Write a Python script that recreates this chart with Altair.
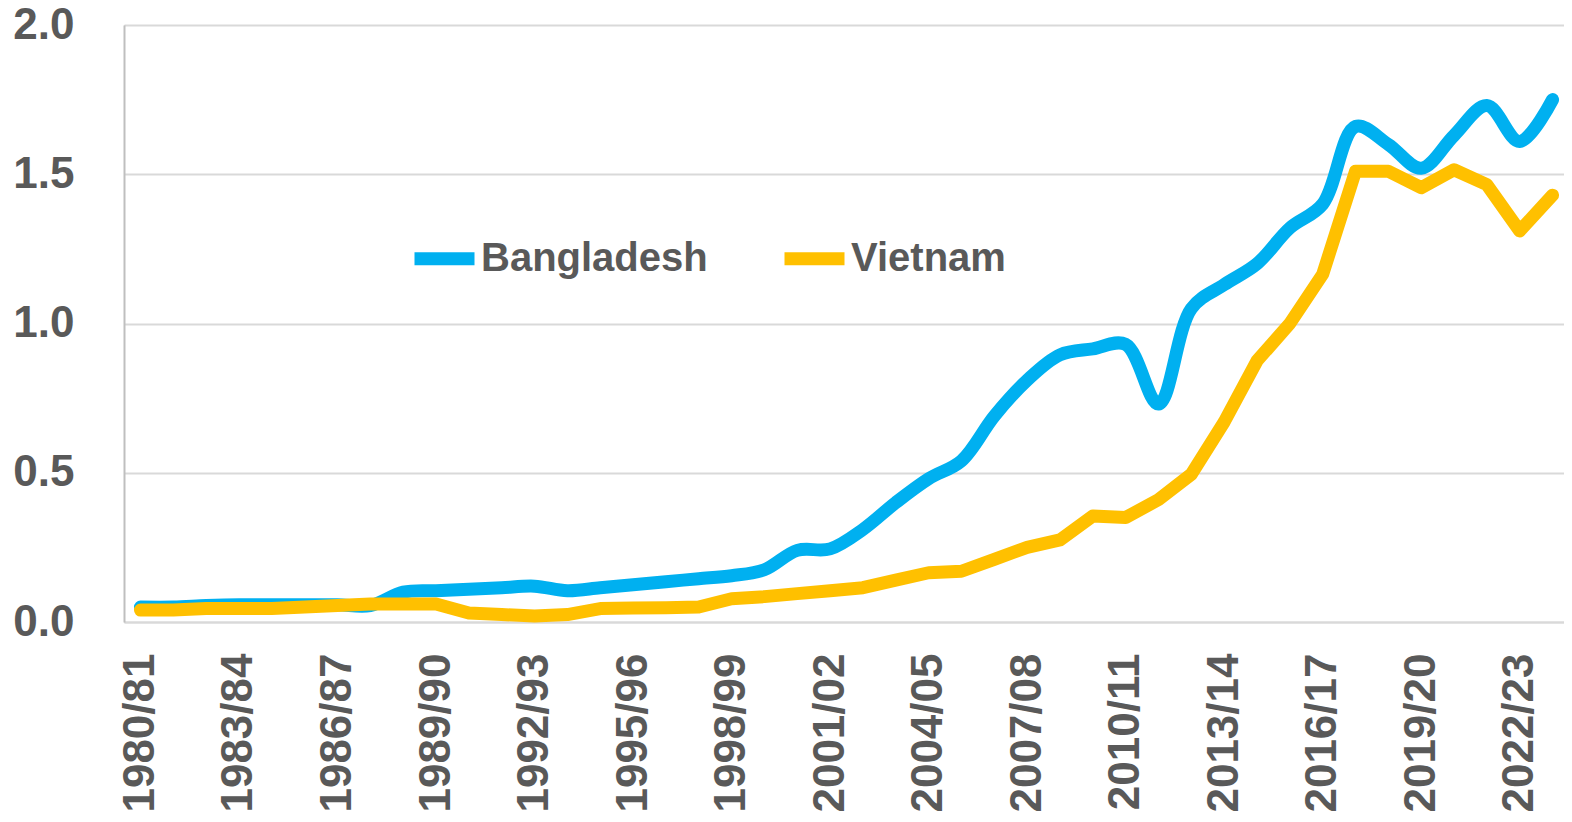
import altair as alt
import pandas as pd

years = ["1980/81","1981/82","1982/83","1983/84","1984/85","1985/86","1986/87","1987/88",
         "1988/89","1989/90","1990/91","1991/92","1992/93","1993/94","1994/95","1995/96",
         "1996/97","1997/98","1998/99","1999/00","2000/01","2001/02","2002/03","2003/04",
         "2004/05","2005/06","2006/07","2007/08","2008/09","2009/10","2010/11","2011/12",
         "2012/13","2013/14","2014/15","2015/16","2016/17","2017/18","2018/19","2019/20",
         "2020/21","2021/22","2022/23","2023/24"]

bangladesh = [0.05,0.05,0.055,0.058,0.058,0.058,0.058,0.055,
              0.10,0.105,0.11,0.115,0.12,0.105,0.115,0.125,0.135,0.145,0.155,0.175,
              0.24,0.245,0.31,0.40,0.48,0.54,0.69,0.81,0.895,0.915,0.93,0.73,
              1.05,1.13,1.20,1.32,1.40,1.66,1.60,1.52,1.63,1.73,1.61,1.75]

vietnam = [0.04,0.04,0.045,0.045,0.045,0.05,0.055,0.06,0.06,0.06,
           0.03,0.025,0.02,0.025,0.045,0.047,0.048,0.05,0.078,0.085,0.095,0.105,
           0.115,0.14,0.165,0.17,0.21,0.25,0.275,0.355,0.35,0.41,0.495,0.67,
           0.875,1.00,1.165,1.51,1.51,1.455,1.515,1.465,1.31,1.43]

tick_labels = ["1980/81","1983/84","1986/87","1989/90","1992/93","1995/96","1998/99",
               "2001/02","2004/05","2007/08","2010/11","2013/14","2016/17","2019/20","2022/23"]
y_ticks = [0, 0.5, 1.0, 1.5, 2.0]
series = ["Bangladesh", "Vietnam"]
colors = ["#00B0F0", "#FFC000"]

df = pd.DataFrame({
    "year": years * 2,
    "value": bangladesh + vietnam,
    "country": ["Bangladesh"] * len(years) + ["Vietnam"] * len(years),
})

FONT = "Liberation Sans"
GREY = "#595959"

x_enc = alt.X("year:O", sort=years, title=None,
              scale=alt.Scale(padding=0.425, align=0.59),
              axis=alt.Axis(values=tick_labels, labelAngle=270, labelFontSize=44,
                            labelFont=FONT, labelFontWeight="bold", labelColor=GREY,
                            ticks=False, labelPadding=31, domainColor="#d9d9d9",
                            domainWidth=2, grid=False, labelOverlap=False))
y_enc = alt.Y("value:Q", title=None,
              scale=alt.Scale(domain=[0, 2], nice=False, zero=True),
              axis=alt.Axis(values=y_ticks, format=".1f", labelFontSize=44,
                            labelFont=FONT, labelFontWeight="bold", labelColor=GREY,
                            ticks=False, labelPadding=50, domainColor="#bfbfbf",
                            domainWidth=2, gridColor="#d9d9d9", gridWidth=2))
color_enc = alt.Color("country:N", title=None,
                      scale=alt.Scale(domain=series, range=colors),
                      legend=alt.Legend(orient="none", legendX=284, legendY=197,
                                        direction="horizontal", symbolType="stroke",
                                        symbolSize=3600, symbolStrokeWidth=13,
                                        labelFont=FONT, labelFontSize=40,
                                        labelFontWeight="bold", labelColor=GREY,
                                        labelOffset=0, columnPadding=50,
                                        labelLimit=400, padding=0))

base = alt.Chart(df).encode(x=x_enc, y=y_enc, color=color_enc)

blue = base.transform_filter(alt.datum.country == "Bangladesh").mark_line(
    strokeWidth=13, interpolate="catmull-rom", strokeCap="round", strokeJoin="round")
yellow = base.transform_filter(alt.datum.country == "Vietnam").mark_line(
    strokeWidth=13, strokeCap="round", strokeJoin="round")

chart = alt.layer(blue, yellow).properties(
    width=1440, height=597,
    autosize=alt.AutoSizeParams(type="none"),
    padding={"left": 116, "top": 17, "right": 0, "bottom": 190},
).configure_view(stroke=None).configure(background="white")

chart.save("out.html", embed_options={"renderer": "svg", "actions": False})
